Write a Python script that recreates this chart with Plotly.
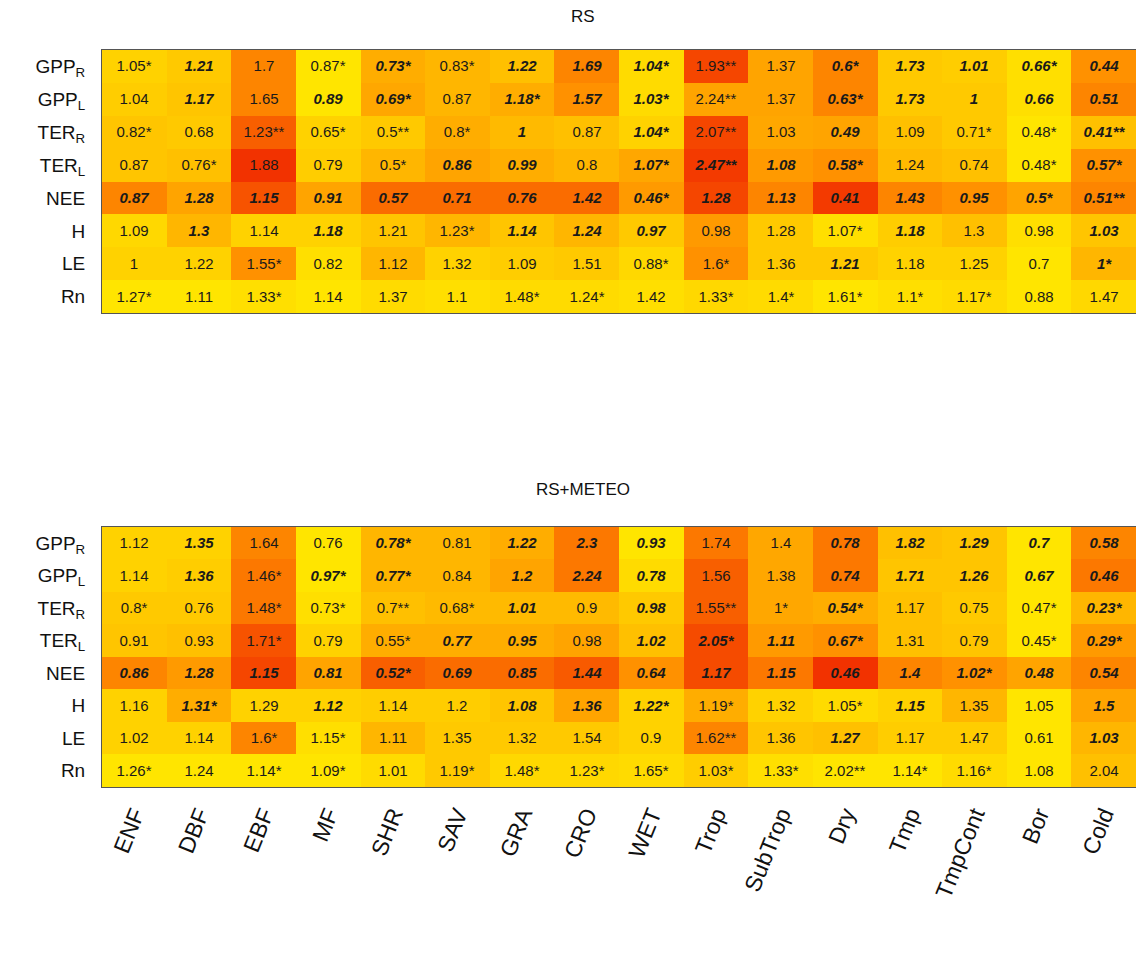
import plotly.graph_objects as go

columns = ["ENF", "DBF", "EBF", "MF", "SHR", "SAV", "GRA", "CRO", "WET",
           "Trop", "SubTrop", "Dry", "Tmp", "TmpCont", "Bor", "Cold"]
rows = ["GPP<sub>R</sub>", "GPP<sub>L</sub>", "TER<sub>R</sub>", "TER<sub>L</sub>",
        "NEE", "H", "LE", "Rn"]

# ---------- RS ----------
rs_text = [
    ["1.05*", "1.21", "1.7", "0.87*", "0.73*", "0.83*", "1.22", "1.69", "1.04*", "1.93**", "1.37", "0.6*", "1.73", "1.01", "0.66*", "0.44"],
    ["1.04", "1.17", "1.65", "0.89", "0.69*", "0.87", "1.18*", "1.57", "1.03*", "2.24**", "1.37", "0.63*", "1.73", "1", "0.66", "0.51"],
    ["0.82*", "0.68", "1.23**", "0.65*", "0.5**", "0.8*", "1", "0.87", "1.04*", "2.07**", "1.03", "0.49", "1.09", "0.71*", "0.48*", "0.41**"],
    ["0.87", "0.76*", "1.88", "0.79", "0.5*", "0.86", "0.99", "0.8", "1.07*", "2.47**", "1.08", "0.58*", "1.24", "0.74", "0.48*", "0.57*"],
    ["0.87", "1.28", "1.15", "0.91", "0.57", "0.71", "0.76", "1.42", "0.46*", "1.28", "1.13", "0.41", "1.43", "0.95", "0.5*", "0.51**"],
    ["1.09", "1.3", "1.14", "1.18", "1.21", "1.23*", "1.14", "1.24", "0.97", "0.98", "1.28", "1.07*", "1.18", "1.3", "0.98", "1.03"],
    ["1", "1.22", "1.55*", "0.82", "1.12", "1.32", "1.09", "1.51", "0.88*", "1.6*", "1.36", "1.21", "1.18", "1.25", "0.7", "1*"],
    ["1.27*", "1.11", "1.33*", "1.14", "1.37", "1.1", "1.48*", "1.24*", "1.42", "1.33*", "1.4*", "1.61*", "1.1*", "1.17*", "0.88", "1.47"],
]
rs_bold = [
    [0, 1, 0, 0, 1, 0, 1, 1, 1, 0, 0, 1, 1, 1, 1, 1],
    [0, 1, 0, 1, 1, 0, 1, 1, 1, 0, 0, 1, 1, 1, 1, 1],
    [0, 0, 0, 0, 0, 0, 1, 0, 1, 0, 0, 1, 0, 0, 0, 1],
    [0, 0, 0, 0, 0, 1, 1, 0, 1, 1, 1, 1, 0, 0, 0, 1],
    [1, 1, 1, 1, 1, 1, 1, 1, 1, 1, 1, 1, 1, 1, 1, 1],
    [0, 1, 0, 1, 0, 0, 1, 1, 1, 0, 0, 0, 1, 0, 0, 1],
    [0, 0, 0, 0, 0, 0, 0, 0, 0, 0, 0, 1, 0, 0, 0, 1],
    [0, 0, 0, 0, 0, 0, 0, 0, 0, 0, 0, 0, 0, 0, 0, 0],
]
rs_color = [
    [0.15, 0.20, 0.55, 0.05, 0.35, 0.30, 0.25, 0.55, 0.10, 0.80, 0.40, 0.55, 0.20, 0.18, 0.08, 0.50],
    [0.18, 0.22, 0.55, 0.05, 0.38, 0.30, 0.35, 0.50, 0.10, 0.40, 0.40, 0.55, 0.20, 0.20, 0.08, 0.55],
    [0.22, 0.20, 0.70, 0.15, 0.20, 0.35, 0.28, 0.25, 0.15, 0.80, 0.38, 0.40, 0.25, 0.20, 0.05, 0.25],
    [0.22, 0.25, 0.88, 0.18, 0.30, 0.40, 0.35, 0.30, 0.38, 0.85, 0.45, 0.50, 0.28, 0.25, 0.05, 0.50],
    [0.55, 0.40, 0.75, 0.40, 0.65, 0.65, 0.65, 0.65, 0.45, 0.80, 0.55, 0.85, 0.55, 0.50, 0.40, 0.55],
    [0.12, 0.30, 0.15, 0.15, 0.22, 0.30, 0.22, 0.30, 0.20, 0.45, 0.20, 0.08, 0.18, 0.25, 0.08, 0.22],
    [0.15, 0.15, 0.50, 0.08, 0.30, 0.15, 0.18, 0.20, 0.12, 0.50, 0.20, 0.20, 0.15, 0.15, 0.05, 0.30],
    [0.05, 0.05, 0.08, 0.05, 0.10, 0.08, 0.10, 0.10, 0.08, 0.12, 0.10, 0.05, 0.08, 0.10, 0.05, 0.12],
]

# ---------- RS+METEO ----------
rsm_text = [
    ["1.12", "1.35", "1.64", "0.76", "0.78*", "0.81", "1.22", "2.3", "0.93", "1.74", "1.4", "0.78", "1.82", "1.29", "0.7", "0.58"],
    ["1.14", "1.36", "1.46*", "0.97*", "0.77*", "0.84", "1.2", "2.24", "0.78", "1.56", "1.38", "0.74", "1.71", "1.26", "0.67", "0.46"],
    ["0.8*", "0.76", "1.48*", "0.73*", "0.7**", "0.68*", "1.01", "0.9", "0.98", "1.55**", "1*", "0.54*", "1.17", "0.75", "0.47*", "0.23*"],
    ["0.91", "0.93", "1.71*", "0.79", "0.55*", "0.77", "0.95", "0.98", "1.02", "2.05*", "1.11", "0.67*", "1.31", "0.79", "0.45*", "0.29*"],
    ["0.86", "1.28", "1.15", "0.81", "0.52*", "0.69", "0.85", "1.44", "0.64", "1.17", "1.15", "0.46", "1.4", "1.02*", "0.48", "0.54"],
    ["1.16", "1.31*", "1.29", "1.12", "1.14", "1.2", "1.08", "1.36", "1.22*", "1.19*", "1.32", "1.05*", "1.15", "1.35", "1.05", "1.5"],
    ["1.02", "1.14", "1.6*", "1.15*", "1.11", "1.35", "1.32", "1.54", "0.9", "1.62**", "1.36", "1.27", "1.17", "1.47", "0.61", "1.03"],
    ["1.26*", "1.24", "1.14*", "1.09*", "1.01", "1.19*", "1.48*", "1.23*", "1.65*", "1.03*", "1.33*", "2.02**", "1.14*", "1.16*", "1.08", "2.04"],
]
rsm_bold = [
    [0, 1, 0, 0, 1, 0, 1, 1, 1, 0, 0, 1, 1, 1, 1, 1],
    [0, 1, 0, 1, 1, 0, 1, 1, 1, 0, 0, 1, 1, 1, 1, 1],
    [0, 0, 0, 0, 0, 0, 1, 0, 1, 0, 0, 1, 0, 0, 0, 1],
    [0, 0, 0, 0, 0, 1, 1, 0, 1, 1, 1, 1, 0, 0, 0, 1],
    [1, 1, 1, 1, 1, 1, 1, 1, 1, 1, 1, 1, 1, 1, 1, 1],
    [0, 1, 0, 1, 0, 0, 1, 1, 1, 0, 0, 0, 1, 0, 0, 1],
    [0, 0, 0, 0, 0, 0, 0, 0, 0, 0, 0, 1, 0, 0, 0, 1],
    [0, 0, 0, 0, 0, 0, 0, 0, 0, 0, 0, 0, 0, 0, 0, 0],
]
rsm_color = [
    [0.15, 0.15, 0.55, 0.05, 0.30, 0.30, 0.35, 0.60, 0.05, 0.60, 0.38, 0.60, 0.25, 0.22, 0.05, 0.55],
    [0.15, 0.18, 0.60, 0.05, 0.30, 0.30, 0.40, 0.60, 0.10, 0.70, 0.38, 0.60, 0.22, 0.22, 0.05, 0.60],
    [0.20, 0.20, 0.60, 0.08, 0.25, 0.28, 0.28, 0.28, 0.20, 0.70, 0.38, 0.35, 0.25, 0.20, 0.05, 0.30],
    [0.22, 0.25, 0.75, 0.15, 0.35, 0.35, 0.35, 0.40, 0.25, 0.78, 0.45, 0.50, 0.25, 0.22, 0.05, 0.45],
    [0.55, 0.45, 0.80, 0.40, 0.70, 0.65, 0.65, 0.72, 0.50, 0.78, 0.60, 0.88, 0.55, 0.50, 0.40, 0.55],
    [0.15, 0.35, 0.15, 0.15, 0.18, 0.18, 0.22, 0.40, 0.15, 0.35, 0.15, 0.10, 0.15, 0.30, 0.05, 0.40],
    [0.15, 0.15, 0.55, 0.08, 0.30, 0.20, 0.20, 0.20, 0.15, 0.55, 0.22, 0.25, 0.18, 0.18, 0.05, 0.30],
    [0.05, 0.05, 0.05, 0.05, 0.10, 0.20, 0.12, 0.12, 0.10, 0.18, 0.08, 0.05, 0.05, 0.10, 0.05, 0.25],
]

colorscale = [[0.0, "rgb(255,238,0)"], [0.5, "rgb(255,145,0)"], [1.0, "rgb(238,20,0)"]]


def styled(text, bold):
    return [[f"<b><i>{t}</i></b>" if b else t for t, b in zip(tr, br)]
            for tr, br in zip(text, bold)]


fig = go.Figure()
ncol = len(columns)
nrow = len(rows)
for i, (txt, bld, col) in enumerate([(rs_text, rs_bold, rs_color),
                                     (rsm_text, rsm_bold, rsm_color)]):
    fig.add_trace(go.Heatmap(
        z=col, x=list(range(ncol)), y=list(range(nrow)),
        text=styled(txt, bld), texttemplate="%{text}",
        textfont=dict(family="Arial", size=15, color="#1a1a1a"),
        colorscale=colorscale, zmin=0, zmax=1, showscale=False,
        xaxis="x" if i == 0 else "x2", yaxis="y" if i == 0 else "y2",
        hoverinfo="skip",
    ))

axis_common = dict(showline=True, mirror=True, linecolor="#555555", linewidth=1,
                   ticks="", showgrid=False, zeroline=False)

fig.update_layout(
    width=1136, height=955,
    margin=dict(l=102, r=0, t=50, b=168),
    paper_bgcolor="white", plot_bgcolor="white",
    font=dict(family="Arial", color="#111111"),
    xaxis=dict(domain=[0, 1], anchor="y", range=[-0.5, ncol - 0.5],
               showticklabels=False, **axis_common),
    yaxis=dict(domain=[0.643, 1], anchor="x", range=[nrow - 0.5, -0.5],
               tickvals=list(range(nrow)), ticktext=rows,
               tickfont=dict(size=19), ticklabelstandoff=12, **axis_common),
    xaxis2=dict(domain=[0, 1], anchor="y2", range=[-0.5, ncol - 0.5],
                tickvals=list(range(ncol)), ticktext=columns, tickangle=-68,
                tickfont=dict(size=23), ticklabelstandoff=4, **axis_common),
    yaxis2=dict(domain=[0, 0.3528], anchor="x2", range=[nrow - 0.5, -0.5],
                tickvals=list(range(nrow)), ticktext=rows,
                tickfont=dict(size=19), ticklabelstandoff=12, **axis_common),
    annotations=[
        dict(text="RS", x=0.465, y=1.045, xref="paper", yref="paper",
             showarrow=False, font=dict(size=17), xanchor="center", yanchor="middle"),
        dict(text="RS+METEO", x=0.465, y=0.403, xref="paper", yref="paper",
             showarrow=False, font=dict(size=17), xanchor="center", yanchor="middle"),
    ],
)

fig.write_html(
    "out.html",
    config={"displayModeBar": False},
    post_script="document.body.style.margin='0';document.body.style.overflow='hidden';",
)
